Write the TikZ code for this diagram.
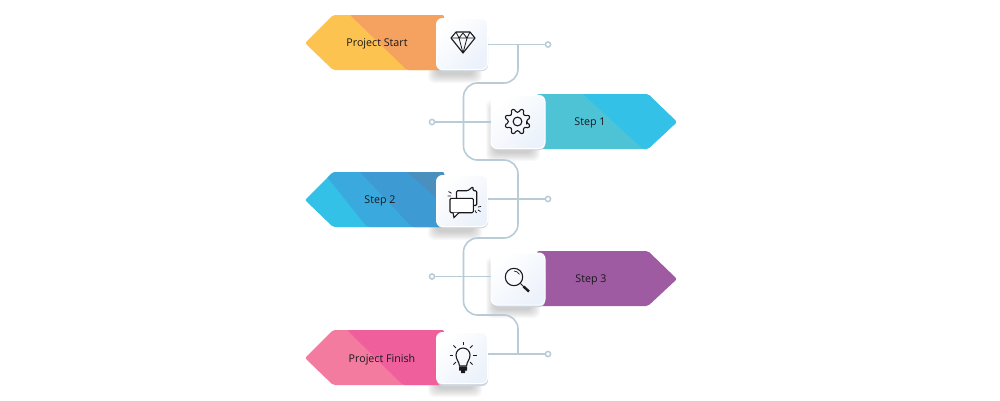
\documentclass[tikz,border=0pt]{standalone}
\usepackage{fontspec}
\setmainfont{Open Sans}
\usetikzlibrary{positioning, calc}
\definecolor{wirecol}{RGB}{184,203,215}
\definecolor{cardcol}{RGB}{236,242,251}
\definecolor{edgecol}{RGB}{205,214,224}
\definecolor{inkcol}{RGB}{26,24,28}
\definecolor{startcola}{RGB}{253,195,80}
\definecolor{startcolb}{RGB}{245,161,95}
\definecolor{onecola}{RGB}{79,195,214}
\definecolor{onecolb}{RGB}{51,193,232}
\definecolor{twocola}{RGB}{51,193,232}
\definecolor{twocolb}{RGB}{58,169,222}
\definecolor{twocolc}{RGB}{62,154,211}
\definecolor{twocold}{RGB}{74,144,190}
\definecolor{threecola}{RGB}{158,91,162}
\definecolor{finishcola}{RGB}{244,123,160}
\definecolor{finishcolb}{RGB}{238,95,155}

\begin{document}
\begin{tikzpicture}[
	x=1pt,
	y=-1pt,
	wire/.style={
		draw=wirecol,
		line width=1.6pt
	},
	dotnode/.style={
		draw=wirecol,
		circle,
		fill=white,
		line width=1.5pt,
		inner sep=0pt,
		minimum size=5.2pt
	},
	card/.style={
		rounded corners=6pt,
		minimum width=51pt,
		minimum height=51pt,
		inner sep=0pt,
		draw=white,
		line width=1pt,
		left color=white,
		right color=cardcol,
		shading angle=45
	},
	softshadow/.style={
		fill=black,
		opacity=.022,
		rounded corners=6pt
	},
	bannerlabel/.style={
		text=inkcol,
		font=\fontsize{10.7}{12}\selectfont,
		inner sep=0pt
	},
	icon/.style={
		draw=inkcol,
		line width=1.1pt,
		line join=round
	}
	]
	\useasboundingbox (0,0) rectangle (1000,400);

	% Shadows under the cards
	\foreach \xleft/\ytop in {436/30, 494/108, 436/187, 494/265, 436/344}{
		\foreach \g in {0,...,8}{
			\fill[softshadow] (\xleft-\g,\ytop-\g) rectangle (\xleft+38+\g,\ytop+45+\g);
		}
	}

	% Banners pointing left
	\foreach \ytop/\cola/\colb/\xa/\xb in {15/startcola/startcolb/350/407,
		330/finishcola/finishcolb/347/403}{
		\path[fill=\cola, rounded corners=2pt, path picture={
				\fill[\colb] (\xa,\ytop) -- (450,\ytop) -- (450,\ytop+55) -- (\xb,\ytop+55) -- cycle;
			}]
			(305,\ytop+28) -- (333,\ytop) -- (444,\ytop) -- (444,\ytop+55) -- (333,\ytop+55) -- cycle;
	}
	\path[fill=twocola, rounded corners=2pt, path picture={
			\fill[twocolb] (300,143) -- (450,143) -- (450,227) -- (367,227) -- cycle;
			\fill[twocolc] (360,172) -- (450,172) -- (450,227) -- (412,227) -- cycle;
			\fill[twocold] (407,172) -- (450,172) -- (450,210) -- cycle;
		}]
		(305,200) -- (333,172) -- (444,172) -- (444,227) -- (333,227) -- cycle;

	% Banners pointing right
	\path[fill=onecola, rounded corners=2pt, path picture={
			\fill[onecolb] (583,94) -- (680,94) -- (680,149) -- (643,149) -- cycle;
		}]
		(677,122) -- (648,94) -- (537,94) -- (537,149) -- (648,149) -- cycle;
	\path[fill=threecola, rounded corners=2pt]
		(677,279) -- (648,251) -- (537,251) -- (537,306) -- (648,306) -- cycle;

	% Wire
	\coordinate (jtop) at (518,44);
	\coordinate (jbottom) at (518,354);
	\draw[wire, rounded corners=14pt]
		(jtop) -- (518,83) -- (463.5,83) -- (463.5,160) -- (518,160) -- (518,238)
		-- (463.5,238) -- (463.5,315) -- (518,315) -- (jbottom);

	% Cards
	\fill[edgecol, rounded corners=6pt] (437,30) rectangle (488,71);
	\fill[edgecol, rounded corners=6pt] (491,110) rectangle (545,150);
	\fill[edgecol, rounded corners=6pt] (437,190) rectangle (488,228);
	\fill[edgecol, rounded corners=6pt] (491,268) rectangle (545,307);
	\fill[edgecol, rounded corners=6pt] (437,348) rectangle (488,386);
	\node[card] (cstart) at (462,44) {};
	\node[card, minimum width=54pt, minimum height=53pt] (cone) at (518,122) {};
	\node[card] (ctwo) at (462,201) {};
	\node[card, minimum width=54pt, minimum height=52pt] (cthree) at (518,279) {};
	\node[card] (cfinish) at (462,358) {};

	% Dots
	\node[dotnode] (dstart) at (548,44.5) {};
	\node[dotnode] (done) at (432,122) {};
	\node[dotnode] (dtwo) at (548,199) {};
	\node[dotnode] (dthree) at (432,276.5) {};
	\node[dotnode] (dfinish) at (548,354) {};

	% Branches
	\draw[wire] (cstart.east |- dstart) -- (dstart);
	\draw[wire] (cone.west |- done) -- (done);
	\draw[wire] (ctwo.east |- dtwo) -- (dtwo);
	\draw[wire] (cthree.west |- dthree) -- (dthree);
	\draw[wire] (cfinish.east |- dfinish) -- (dfinish);

	% Labels
	\node[bannerlabel] (lstart) at (377,44) {Project Start};
	\node[bannerlabel] (lone) at (590,122.5) {Step 1};
	\node[bannerlabel] (ltwo) at (380,201) {Step 2};
	\node[bannerlabel] (lthree) at (591,280) {Step 3};
	\node[bannerlabel] (lfinish) at (382,360) {Project Finish};

	% Diamond
	\draw[icon] (456,32) -- (470,32) -- (475,38) -- (463,53) -- (451,38) -- cycle;
	\draw[icon, line width=.8pt] (451,38) -- (475,38)
		(456,32) -- (459,38) -- (463,53) -- (467,38) -- (470,32)
		(459,38) -- (463,33) -- (467,38);

	% Gear
	\draw[icon, shift={(517.5,121.5)}, rounded corners=1.2pt]
		(8.5:9.4)
		\foreach \a in {22.5,67.5,...,337.5}{
			-- (\a-13:9.4) -- (\a-8:13) -- (\a+8:13) -- (\a+13:9.4)
		} -- cycle;
	\draw[icon] (517.5,121.5) circle (4.4);

	% Chat bubbles
	\draw[icon, rounded corners=1.2pt] (456.5,198) -- (456.5,190.7) -- (468,190.7) -- (473,186.5) -- (473,190.7) -- (476.7,190.7) -- (476.7,205.5) -- (473,205.5);
	\draw[icon, rounded corners=1.2pt, fill=white] (450,198.3) rectangle (473.3,212.7);
	\draw[icon, fill=white, line join=miter] (453,212.7) -- (454,217.5) -- (459,212.7);
	\draw[icon, line width=.8pt] (448.5,191.5) -- (451.5,193.3) (447.5,196) -- (451,196)
		(478,207) -- (481,206.5) (478,210) -- (480.5,211.5) (475,210.5) -- (476.5,213);

	% Magnifier
	\draw[icon] (514,277) circle (8.7);
	\draw[icon, line width=.7pt] (514,271) arc[start angle=270, end angle=335, radius=6];
	\draw[icon, line width=1pt] (520.5,283.5) -- (524,287);
	\draw[icon, line width=2.4pt] (523.5,286.5) -- (529,291.5);

	% Bulb
	\draw[icon] (459.5,366) .. controls (459,361) and (456,360) .. (456,355)
		arc[start angle=180, end angle=360, radius=7]
		.. controls (470,360) and (467,361) .. (466.5,366) -- cycle;
	\fill[inkcol] (459,366.5) rectangle (467,370.5) (461,370.5) rectangle (465,373);
	\foreach \a in {0,45,135,180,225,270,315}{
		\draw[icon, line width=.9pt] ($(463,355)+(\a:10)$) -- ($(463,355)+(\a:13.5)$);
	}
\end{tikzpicture}
\end{document}
